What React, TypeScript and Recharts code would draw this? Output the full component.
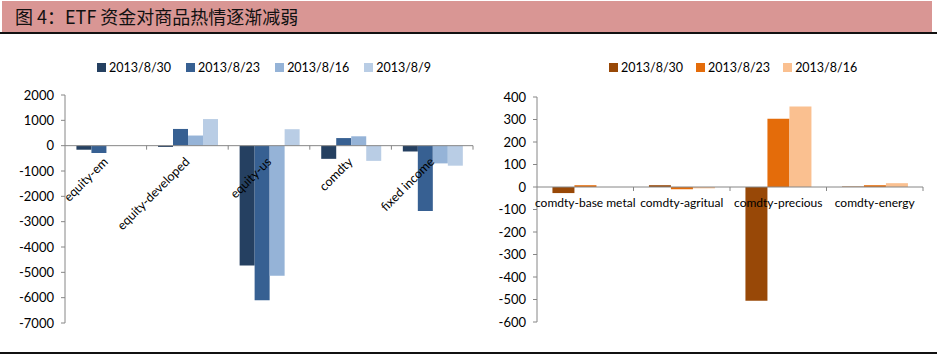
import { Bar, BarChart, Legend, ReferenceLine, XAxis, YAxis } from "recharts";

// ---- left chart: equity / bond / commodity ETF flows ----
const leftCategories = ["equity-em", "equity-developed", "equity-us", "comdty", "fixed income"];
const leftDates = ["2013/8/30", "2013/8/23", "2013/8/16", "2013/8/9"];
const leftAug30 = [-160, -50, -4730, -520, -230];
const leftAug23 = [-290, 660, -6100, 300, -2580];
const leftAug16 = [0, 400, -5130, 370, -700];
const leftAug9 = [0, 1050, 650, -600, -790];
const leftTicks = [2000, 1000, 0, -1000, -2000, -3000, -4000, -5000, -6000, -7000];
const leftColors = ["#254061", "#376092", "#95B3D7", "#B9CDE5"];

// ---- right chart: commodity sub-sectors ----
const rightCategories = ["comdty-base metal", "comdty-agritual", "comdty-precious", "comdty-energy"];
const rightDates = ["2013/8/30", "2013/8/23", "2013/8/16"];
const rightAug30 = [-27, 8, -505, 2];
const rightAug23 = [8, -10, 303, 8];
const rightAug16 = [0, -6, 358, 17];
const rightTicks = [400, 300, 200, 100, 0, -100, -200, -300, -400, -500, -600];
const rightColors = ["#984807", "#E46C0A", "#FAC090"];

const leftSeries = [leftAug30, leftAug23, leftAug16, leftAug9];
const rightSeries = [rightAug30, rightAug23, rightAug16];

const leftData = leftCategories.map((name, i) => {
  const row: Record<string, string | number> = { name };
  leftSeries.forEach((s, k) => (row[leftDates[k]] = s[i]));
  return row;
});
const rightData = rightCategories.map((name, i) => {
  const row: Record<string, string | number> = { name };
  rightSeries.forEach((s, k) => (row[rightDates[k]] = s[i]));
  return row;
});

const FONT = "Lato, 'Open Sans', sans-serif";
const AXIS = "#868686";

// chart boxes; xh = height given to the (label-less) x axis strip
const L = { w: 480, h: 290, top: 45, bottom: 16, xh: 1, yw: 65, right: 7, max: 2000, min: -7000 };
const R = { w: 457, h: 290, top: 47, bottom: 17, xh: 1, yw: 57, right: 14, max: 400, min: -600 };

// y pixel of the value 0 inside a chart (same linear mapping as the y axis)
const zeroOf = (c: typeof L) => c.top + ((c.h - c.top - c.bottom - c.xh) * c.max) / (c.max - c.min);
const bandOf = (c: typeof L, n: number) => (c.w - c.yw - c.right) / n;

function ChartLegend({ dates, colors, gap }: { dates: string[]; colors: string[]; gap: number }) {
  return (
    <div style={{ display: "flex", fontFamily: FONT, fontSize: 12.5, color: "#000", whiteSpace: "nowrap" }}>
      {dates.map((d, i) => (
        <div key={d} style={{ display: "flex", alignItems: "center", marginRight: gap }}>
          <span style={{ width: 9, height: 9, background: colors[i], marginRight: 3 }} />
          <span>{d}</span>
        </div>
      ))}
    </div>
  );
}

function LeftTick(props: any) {
  const { x, payload } = props;
  const y0 = zeroOf(L);
  const band = bandOf(L, leftCategories.length);
  return (
    <g>
      <line x1={x + band / 2} x2={x + band / 2} y1={y0} y2={y0 + 4} stroke={AXIS} />
      <text
        x={x + 3}
        y={y0 + 17}
        textAnchor="end"
        transform={`rotate(-45, ${x + 3}, ${y0 + 17})`}
        fontSize={12.5}
        fontFamily={FONT}
        fill="#000"
      >
        {payload.value}
      </text>
    </g>
  );
}

function RightTick(props: any) {
  const { x, payload } = props;
  const y0 = zeroOf(R);
  const band = bandOf(R, rightCategories.length);
  return (
    <g>
      <line x1={x + band / 2} x2={x + band / 2} y1={y0} y2={y0 + 4} stroke={AXIS} />
      <text x={x} y={y0 + 20} textAnchor="middle" fontSize={12} fontFamily={FONT} fill="#000">
        {payload.value}
      </text>
    </g>
  );
}

export default function App() {
  return (
    <div style={{ position: "absolute", left: 0, top: 0, width: 937, height: 356, background: "#fff", fontFamily: FONT }}>
      <div style={{ position: "absolute", left: 2, top: 1, width: 930, height: 31, background: "#D99694" }} />
      <div
        style={{
          position: "absolute",
          left: 15,
          top: 5,
          fontFamily: "'Noto Sans CJK SC', sans-serif",
          fontSize: 18,
          lineHeight: "22px",
          color: "#111",
        }}
      >
        图 4：ETF 资金对商品热情逐渐减弱
      </div>
      <div style={{ position: "absolute", left: 0, top: 32, width: 937, height: 2, background: "#111" }} />

      <div style={{ position: "absolute", left: 0, top: 50 }}>
        <BarChart
          width={L.w}
          height={L.h}
          data={leftData}
          margin={{ top: L.top, right: L.right, bottom: L.bottom, left: 0 }}
          barCategoryGap="14%"
          barGap={0}
        >
          <XAxis dataKey="name" height={L.xh} axisLine={false} tickLine={false} tick={LeftTick} interval={0} />
          <YAxis
            width={L.yw}
            domain={[L.min, L.max]}
            ticks={leftTicks}
            interval={0}
            stroke={AXIS}
            tickSize={4}
            tickMargin={7}
            tick={{ fontSize: 13, fontFamily: FONT, fill: "#000" }}
          />
          <Legend
            layout="horizontal"
            verticalAlign="middle"
            align="center"
            wrapperStyle={{ top: 10, left: 97, width: "auto", height: "auto" }}
            content={() => <ChartLegend dates={leftDates} colors={leftColors} gap={15} />}
          />
          <ReferenceLine y={0} stroke={AXIS} />
          {leftDates.map((d, i) => (
            <Bar key={d} dataKey={d} fill={leftColors[i]} isAnimationActive={false} />
          ))}
        </BarChart>
      </div>

      <div style={{ position: "absolute", left: 480, top: 50 }}>
        <BarChart
          width={R.w}
          height={R.h}
          data={rightData}
          margin={{ top: R.top, right: R.right, bottom: R.bottom, left: 0 }}
          barCategoryGap="16%"
          barGap={0}
        >
          <XAxis dataKey="name" height={R.xh} axisLine={false} tickLine={false} tick={RightTick} interval={0} />
          <YAxis
            width={R.yw}
            domain={[R.min, R.max]}
            ticks={rightTicks}
            interval={0}
            stroke={AXIS}
            tickSize={4}
            tickMargin={7}
            tick={{ fontSize: 13, fontFamily: FONT, fill: "#000" }}
          />
          <Legend
            layout="horizontal"
            verticalAlign="middle"
            align="center"
            wrapperStyle={{ top: 10, left: 129, width: "auto", height: "auto" }}
            content={() => <ChartLegend dates={rightDates} colors={rightColors} gap={13} />}
          />
          <ReferenceLine y={0} stroke={AXIS} />
          {rightDates.map((d, i) => (
            <Bar key={d} dataKey={d} fill={rightColors[i]} isAnimationActive={false} />
          ))}
        </BarChart>
      </div>

      <div style={{ position: "absolute", left: 0, top: 352, width: 937, height: 2, background: "#111" }} />
    </div>
  );
}
